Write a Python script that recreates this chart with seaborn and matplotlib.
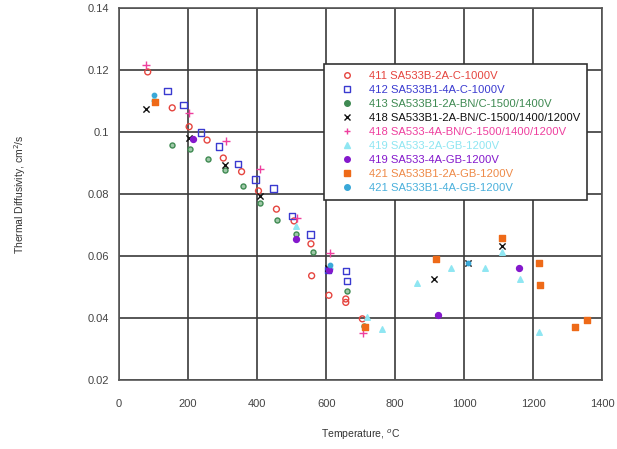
import matplotlib
matplotlib.use("Agg")
import matplotlib.pyplot as plt
from matplotlib.lines import Line2D
import seaborn as sns
import pandas as pd

# ---- data ----
labels = [
    "411 SA533B-2A-C-1000V",
    "412 SA533B1-4A-C-1000V",
    "413 SA533B1-2A-BN/C-1500/1400V",
    "418 SA533B1-2A-BN/C-1500/1400/1200V",
    "418 SA533-4A-BN/C-1500/1400/1200V",
    "419 SA533-2A-GB-1200V",
    "419 SA533-4A-GB-1200V",
    "421 SA533B1-2A-GB-1200V",
    "421 SA533B1-4A-GB-1200V",
]

t411 = [83, 154, 203, 255, 302, 355, 404, 456, 507, 556, 558, 608, 657, 657, 705]
d411 = [0.1194, 0.1078, 0.1017, 0.0974, 0.0916, 0.0872, 0.0810, 0.0751, 0.0713,
        0.0639, 0.0536, 0.0473, 0.0461, 0.0450, 0.0397]

t412 = [140, 186, 238, 290, 344, 395, 448, 501, 555, 605, 658, 660]
d412 = [0.1133, 0.1087, 0.0998, 0.0953, 0.0896, 0.0847, 0.0818, 0.0729, 0.0669,
        0.0555, 0.0552, 0.0519]

t413 = [154, 206, 257, 308, 358, 408, 459, 513, 561, 660, 710]
d413 = [0.0959, 0.0946, 0.0913, 0.0876, 0.0825, 0.0770, 0.0715, 0.0671, 0.0613,
        0.0488, 0.0375]

t418a = [77, 202, 308, 407, 605, 912, 1011, 1110]
d418a = [0.1073, 0.0980, 0.0893, 0.0794, 0.0560, 0.0525, 0.0578, 0.0632]

t418b = [77, 204, 309, 409, 515, 610, 708]
d418b = [0.1216, 0.1060, 0.0971, 0.0880, 0.0722, 0.0611, 0.0350]

t419a = [100, 512, 612, 718, 761, 864, 962, 1060, 1109, 1161, 1216]
d419a = [0.1111, 0.0697, 0.0569, 0.0402, 0.0364, 0.0512, 0.0560, 0.0560, 0.0612,
         0.0524, 0.0356]

t419b = [214, 514, 608, 923, 1160]
d419b = [0.0976, 0.0655, 0.0553, 0.0410, 0.0562]

t421a = [104, 713, 918, 1110, 1218, 1221, 1320, 1357]
d421a = [0.1096, 0.0371, 0.0589, 0.0657, 0.0577, 0.0506, 0.0372, 0.0394]

t421b = [100, 612, 1011]
d421b = [0.1120, 0.0572, 0.0578]

x_ticks = [0, 200, 400, 600, 800, 1000, 1200, 1400]
y_ticks = [0.02, 0.04, 0.06, 0.08, 0.1, 0.12, 0.14]
y_tick_labels = ["0.02", "0.04", "0.06", "0.08", "0.1", "0.12", "0.14"]

series_t = [t411, t412, t413, t418a, t418b, t419a, t419b, t421a, t421b]
series_d = [d411, d412, d413, d418a, d418b, d419a, d419b, d421a, d421b]

# ---- styles ----
colors = ["#e5453f", "#3a3ad0", "#3f8a52", "#111111", "#ee3f9e",
          "#8fe6f2", "#8418cc", "#ee6a18", "#3aa8d8"]
text_colors = ["#e5453f", "#3a3ad0", "#3f8a52", "#111111", "#ee3f9e",
               "#8fe6f2", "#8418cc", "#ee8a48", "#4ab0dc"]
markers = ["o", "s", "o", "x", "+", "^", "o", "s", "o"]
sizes = [18, 22, 13, 20, 28, 16, 18, 24, 10]
hollow = [True, True, False, False, False, False, False, False, False]

sns.set_style("white")
plt.rcParams["font.family"] = ["Liberation Sans", "DejaVu Sans"]

fig = plt.figure(figsize=(6.17, 4.49), dpi=100)
ax = fig.add_axes([0.193, 0.154, 0.783, 0.828])

for i in range(len(labels)):
    df = pd.DataFrame({"T": series_t[i], "D": series_d[i]})
    sns.scatterplot(data=df, x="T", y="D", ax=ax, marker=markers[i],
                    s=sizes[i], color=colors[i], linewidth=1.0, zorder=3,
                    legend=False)
    if markers[i] not in ("x", "+"):
        coll = ax.collections[-1]
        if hollow[i]:
            coll.set_facecolor("none")
            coll.set_edgecolor(colors[i])
        elif i == 2:
            coll.set_facecolor("#9fc8a8")
            coll.set_edgecolor(colors[i])
        else:
            coll.set_edgecolor(colors[i])

ax.set_xlim(0, 1400)
ax.set_ylim(0.02, 0.14)
ax.set_xticks(x_ticks)
ax.set_yticks(y_ticks)
ax.set_yticklabels(y_tick_labels)
ax.grid(True, color="#3a3a3a", linewidth=1.2)
ax.set_axisbelow(True)
for sp in ax.spines.values():
    sp.set_color("#555555")
    sp.set_linewidth(1.2)
ax.tick_params(axis="both", labelsize=8, colors="#444444", length=3, width=1,
               pad=4)
ax.tick_params(axis="x", pad=14, length=0)

ax.set_xlabel("Temperature, $^{o}$C", fontsize=7.5, color="#333333", labelpad=13)
ax.set_ylabel("Thermal Diffusivity, cm$^2$/s", fontsize=7.5, color="#333333",
              labelpad=43)

handles = []
for i in range(len(labels)):
    if hollow[i]:
        h = Line2D([], [], linestyle="none", marker=markers[i], markersize=4,
                   markerfacecolor="none", markeredgecolor=colors[i])
    elif markers[i] in ("x", "+"):
        h = Line2D([], [], linestyle="none", marker=markers[i], markersize=4,
                   color=colors[i])
    else:
        h = Line2D([], [], linestyle="none", marker=markers[i], markersize=4,
                   markerfacecolor=colors[i], markeredgecolor=colors[i])
    handles.append(h)

leg = ax.legend(handles, labels, loc="upper left",
                bbox_to_anchor=(0.425, 0.849), fontsize=8.1, frameon=True,
                fancybox=False, framealpha=1.0, handlelength=2.9,
                handletextpad=0.45, labelspacing=0.36, borderpad=0.6,
                borderaxespad=0)
leg.get_frame().set_edgecolor("#333333")
leg.get_frame().set_linewidth(1.2)
for txt, c in zip(leg.get_texts(), text_colors):
    txt.set_color(c)

fig.savefig("out.png", dpi=100)
